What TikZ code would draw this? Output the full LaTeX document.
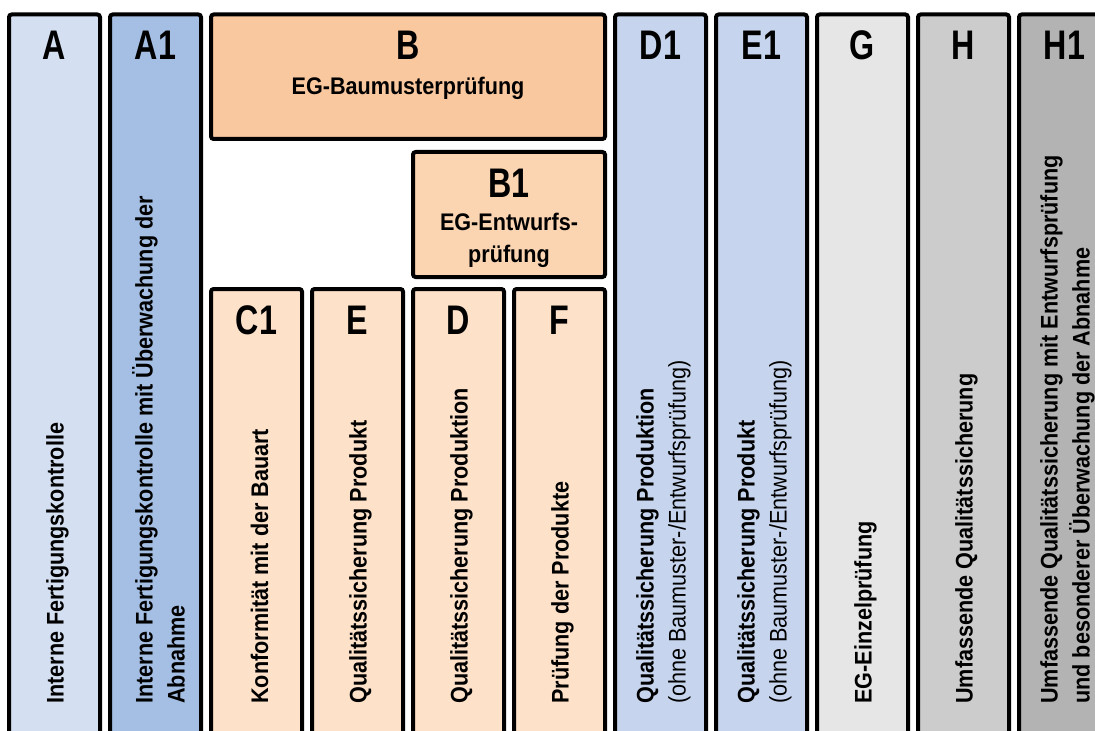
\documentclass[tikz,border=0pt]{standalone}
\usepackage{fontspec}
\setmainfont{Liberation Sans}[FakeStretch=0.9]
\newfontfamily\headfont{Liberation Sans}[FakeStretch=0.78]
\usepackage{tikz}
\definecolor{colA}{RGB}{212,223,241}
\definecolor{colAone}{RGB}{164,191,227}
\definecolor{colB}{RGB}{250,200,158}
\definecolor{colBone}{RGB}{251,213,178}
\definecolor{colC}{RGB}{253,225,201}
\definecolor{colDone}{RGB}{198,213,237}
\definecolor{colG}{RGB}{230,230,230}
\definecolor{colH}{RGB}{204,204,204}
\definecolor{colHone}{RGB}{179,179,179}

\begin{document}
\begin{tikzpicture}[x=0.75pt,y=-0.75pt]
  \tikzstyle{box}=[draw,line width=3pt,rounded corners=2pt]
  \tikzstyle{head}=[inner sep=0pt,font=\headfont\bfseries\fontsize{31}{36}\selectfont]
  \tikzstyle{sub}=[inner sep=0pt,align=center,font=\bfseries\fontsize{18}{24}\selectfont]
  \tikzstyle{vtext}=[rotate=90,anchor=west,align=left,inner sep=0pt,font=\bfseries\fontsize{18}{24}\selectfont]
  \useasboundingbox (0,0) rectangle (1095,731);
  \fill[white] (0,0) rectangle (1095,731);
  \clip (0,0) rectangle (1095,731);
  % columns
  \draw[box,fill=colA] (9,14.5) rectangle (100,745);
  \draw[box,fill=colAone] (110,14.5) rectangle (201,745);
  \draw[box,fill=colB] (211,14.5) rectangle (605,139);
  \draw[box,fill=colBone] (413,152) rectangle (605,277);
  \draw[box,fill=colC] (211,289) rectangle (302,745);
  \draw[box,fill=colC] (312,289) rectangle (403,745);
  \draw[box,fill=colC] (413,289) rectangle (504,745);
  \draw[box,fill=colC] (514,289) rectangle (605,745);
  \draw[box,fill=colDone] (615,14.5) rectangle (706,745);
  \draw[box,fill=colDone] (716,14.5) rectangle (807,745);
  \draw[box,fill=colG] (817,14.5) rectangle (908,745);
  \draw[box,fill=colH] (918,14.5) rectangle (1009,745);
  \draw[box,fill=colHone] (1019,14.5) rectangle (1110,745);
  % headers
  \node[head] (hA) at (54.5,45) {A};
  \node[head] (hAone) at (155.5,45) {A1};
  \node[head] (hB) at (408,45) {B};
  \node[sub,anchor=base] (tB) at (408,95) {EG-Baumusterprüfung};
  \node[head] (hBone) at (509,183) {B1};
  \node[sub,anchor=north] (tBone) at (509,213) {EG-Entwurfs-\\prüfung};
  \node[head] (hCone) at (256.5,320) {C1};
  \node[head] (hE) at (357.5,320) {E};
  \node[head] (hD) at (458.5,320) {D};
  \node[head] (hF) at (559.5,320) {F};
  \node[head] (hDone) at (660.5,45) {D1};
  \node[head] (hEone) at (761.5,45) {E1};
  \node[head] (hG) at (862.5,45) {G};
  \node[head] (hH) at (963.5,45) {H};
  \node[head] (hHone) at (1064.5,45) {H1};
  % vertical texts
  \node[vtext] (tA) at (57.5,704) {Interne Fertigungskontrolle};
  \node[vtext] (tAone) at (158.5,704) {Interne Fertigungskontrolle mit Überwachung der\\Abnahme};
  \node[vtext] (tCone) at (259.5,704) {Konformität mit der Bauart};
  \node[vtext] (tE) at (360.5,704) {Qualitätssicherung Produkt};
  \node[vtext] (tD) at (461.5,704) {Qualitätssicherung Produktion};
  \node[vtext] (tF) at (562.5,704) {Prüfung der Produkte};
  \node[vtext] (tDone) at (663.5,704) {Qualitätssicherung Produktion\\{\mdseries(ohne Baumuster-/Entwurfsprüfung)}};
  \node[vtext] (tEone) at (764.5,704) {Qualitätssicherung Produkt\\{\mdseries(ohne Baumuster-/Entwurfsprüfung)}};
  \node[vtext] (tG) at (865.5,704) {EG-Einzelprüfung};
  \node[vtext] (tH) at (966.5,704) {Umfassende Qualitätssicherung};
  \node[vtext] (tHone) at (1067.5,704) {Umfassende Qualitätssicherung mit Entwurfsprüfung\\und besonderer Überwachung der Abnahme};
\end{tikzpicture}
\end{document}
